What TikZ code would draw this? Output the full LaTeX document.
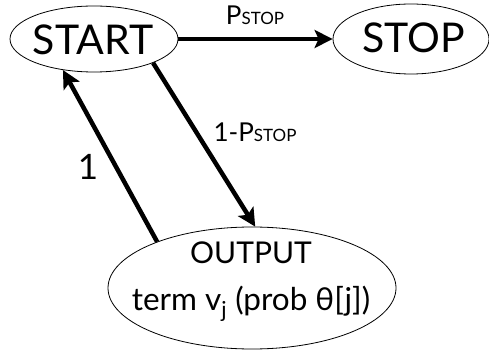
\documentclass[tikz,border=0pt]{standalone}
\usepackage{fontspec}
\setmainfont{Lato}
\usetikzlibrary{shapes.geometric,arrows.meta}
\newcommand{\pstop}{P{\fontsize{17}{18}\selectfont STOP}}
\begin{document}
\begin{tikzpicture}[x=1pt,y=-1pt,
 state/.style={draw,ellipse,line width=0.8pt,inner sep=0pt},
 big/.style={font=\fontsize{41}{44}\selectfont,anchor=base},
 lbl/.style={font=\fontsize{26}{27}\selectfont,anchor=base},
 edge/.style={line width=4.5pt,-{Stealth[length=18pt,width=18pt,inset=4pt]}}]
\useasboundingbox (0,0) rectangle (489,352);
\node[state,minimum width=168pt,minimum height=66pt] (start) at (94,39) {};
\node[state,minimum width=156pt,minimum height=70pt] (stop) at (411,39) {};
\node[state,minimum width=288pt,minimum height=122pt] (output) at (252,288) {};
\node[big] (tstart) at (93,55) {START};
\node[big] (tstop) at (414,53) {STOP};
\node[font=\fontsize{30}{31}\selectfont,anchor=base] (otitle) at (251,263) {OUTPUT};
\node[font=\fontsize{31.5}{33}\selectfont,anchor=base] (oterm) at (251,310) {term v\textsubscript{j} (prob θ[j])};
\draw[edge] (start.east) -- (stop.west);
\draw[edge] (start.-22) -- (output.87);
\draw[edge] (output.154) -- (start.225);
\node[lbl] (l0) at (255,25) {\pstop};
\node[lbl] (l1) at (255,142) {1-\pstop};
\node[font=\fontsize{35}{36}\selectfont,anchor=base] (l2) at (88,180) {1};
\end{tikzpicture}
\end{document}
